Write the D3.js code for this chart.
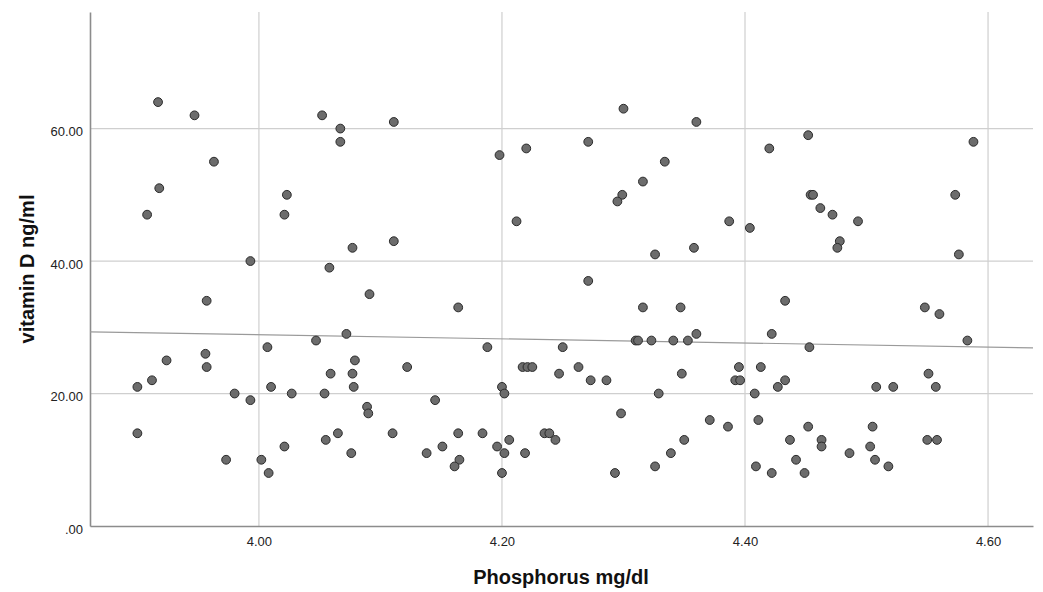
<!DOCTYPE html>
<html><head><meta charset="utf-8">
<script src="https://cdn.jsdelivr.net/npm/d3@7"></script>
<style>html,body{margin:0;padding:0;background:#fff;}svg{display:block;}</style>
</head><body>
<script>
// Phosphorus (mg/dl) values
const phosphorus = [
3.917,3.947,4.052,3.963,3.918,3.908,4.023,4.021,3.993,4.058,
4.067,4.067,4.111,4.198,4.220,4.212,4.077,4.111,4.300,4.360,
4.271,4.420,4.334,4.316,4.299,4.295,4.387,4.404,4.358,4.326,
4.271,4.452,4.588,4.454,4.456,4.462,4.472,4.493,4.478,4.476,
4.573,4.576,
3.957,4.007,4.047,3.956,3.924,3.957,3.912,3.900,4.010,3.980,
4.027,4.054,3.993,3.900,4.055,4.021,3.973,4.002,4.008,
4.091,4.164,4.072,4.188,4.079,4.059,4.077,4.122,4.078,4.145,
4.089,4.090,4.217,4.221,4.225,4.200,4.202,4.065,4.076,4.110,
4.138,4.151,4.164,4.165,4.161,4.184,4.196,4.206,4.202,4.200,
4.219,4.235,4.239,4.244,
4.316,4.347,4.433,4.360,4.422,4.310,4.312,4.323,4.341,4.353,
4.250,4.247,4.263,4.273,4.286,4.348,4.329,4.395,4.392,4.396,
4.413,4.408,4.427,4.433,4.298,4.371,4.386,4.411,4.350,4.339,
4.326,4.293,4.409,4.422,
4.548,4.560,4.583,4.453,4.508,4.522,4.551,4.557,4.452,4.505,
4.437,4.463,4.463,4.442,4.449,4.486,4.503,4.507,4.518,4.550,
4.558
];
// Vitamin D (ng/ml) values
const vitaminD = [
64,62,62,55,51,47,50,47,40,39,
60,58,61,56,57,46,42,43,63,61,
58,57,55,52,50,49,46,45,42,41,
37,59,58,50,50,48,47,46,43,42,
50,41,
34,27,28,26,25,24,22,21,21,20,
20,20,19,14,13,12,10,10,8,
35,33,29,27,25,23,23,24,21,19,
18,17,24,24,24,21,20,14,11,14,
11,12,14,10,9,14,12,13,11,8,
11,14,14,13,
33,33,34,29,29,28,28,28,28,28,
27,23,24,22,22,23,20,24,22,22,
24,20,21,22,17,16,15,16,13,11,
9,8,9,8,
33,32,28,27,21,21,23,21,15,15,
13,13,12,10,8,11,12,10,9,13,
13
];
const xTicks = [4.00, 4.20, 4.40, 4.60];
const xTickLabels = ["4.00", "4.20", "4.40", "4.60"];
const yTicks = [0, 20, 40, 60];
const yTickLabels = [".00", "20.00", "40.00", "60.00"];
// Fit line at domain ends
const fitX = [3.861, 4.637];
const fitY = [29.3, 26.9];
const xTitle = "Phosphorus mg/dl";
const yTitle = "vitamin D ng/ml";

const W = 1043, H = 592;
const mLeft = 90, mRight = 1033, mTop = 12, mBottom = 526;
const x = d3.scaleLinear().domain([3.861, 4.637]).range([mLeft, mRight]);
const y = d3.scaleLinear().domain([0, 77.6]).range([mBottom, mTop]);

const svg = d3.select("body").append("svg").attr("width", W).attr("height", H);
const font = "'Liberation Sans', Arial, sans-serif";

// gridlines
svg.append("g").selectAll("line").data(xTicks).join("line")
  .attr("x1", d => x(d)).attr("x2", d => x(d)).attr("y1", mTop).attr("y2", mBottom)
  .attr("stroke", "#cfcfcf").attr("stroke-width", 1.2);
svg.append("g").selectAll("line").data(yTicks.filter(d => d > 0)).join("line")
  .attr("x1", mLeft).attr("x2", mRight).attr("y1", d => y(d)).attr("y2", d => y(d))
  .attr("stroke", "#cfcfcf").attr("stroke-width", 1.2);

// axes
const xAxis = d3.axisBottom(x).tickValues(xTicks).tickSize(0).tickPadding(11)
  .tickFormat((d, i) => xTickLabels[i]);
const gx = svg.append("g").attr("transform", `translate(0,${mBottom})`).call(xAxis);
gx.select(".domain").attr("stroke", "#8c8c8c").attr("stroke-width", 1.6);
gx.selectAll("text").attr("font-family", font).attr("font-size", 13).attr("fill", "#222");

const yAxis = d3.axisLeft(y).tickValues(yTicks).tickSize(0).tickPadding(7)
  .tickFormat((d, i) => yTickLabels[i]);
const gy = svg.append("g").attr("transform", `translate(${mLeft},0)`).call(yAxis);
gy.select(".domain").attr("stroke", "#8c8c8c").attr("stroke-width", 1.6);
gy.selectAll("text").attr("font-family", font).attr("font-size", 13).attr("fill", "#222")
  .attr("dy", "0.55em");

// fit line
svg.append("line")
  .attr("x1", x(fitX[0])).attr("y1", y(fitY[0]))
  .attr("x2", x(fitX[1])).attr("y2", y(fitY[1]))
  .attr("stroke", "#9a9a9a").attr("stroke-width", 1.2);

// points
const pts = phosphorus.map((p, i) => ({p, v: vitaminD[i]}));
svg.append("g").selectAll("circle").data(pts).join("circle")
  .attr("cx", d => x(d.p)).attr("cy", d => y(d.v)).attr("r", 4.4)
  .attr("fill", "#6c6c6c").attr("stroke", "#2a2a2a").attr("stroke-width", 1);

// titles
svg.append("text").attr("x", 561).attr("y", 584)
  .attr("text-anchor", "middle").attr("font-family", font).attr("font-weight", "bold")
  .attr("font-size", 20).attr("fill", "#111").text(xTitle);
svg.append("text").attr("transform", `translate(34,269) rotate(-90)`)
  .attr("text-anchor", "middle").attr("font-family", font).attr("font-weight", "bold")
  .attr("font-size", 20).attr("fill", "#111").text(yTitle);
</script>
</body></html>
